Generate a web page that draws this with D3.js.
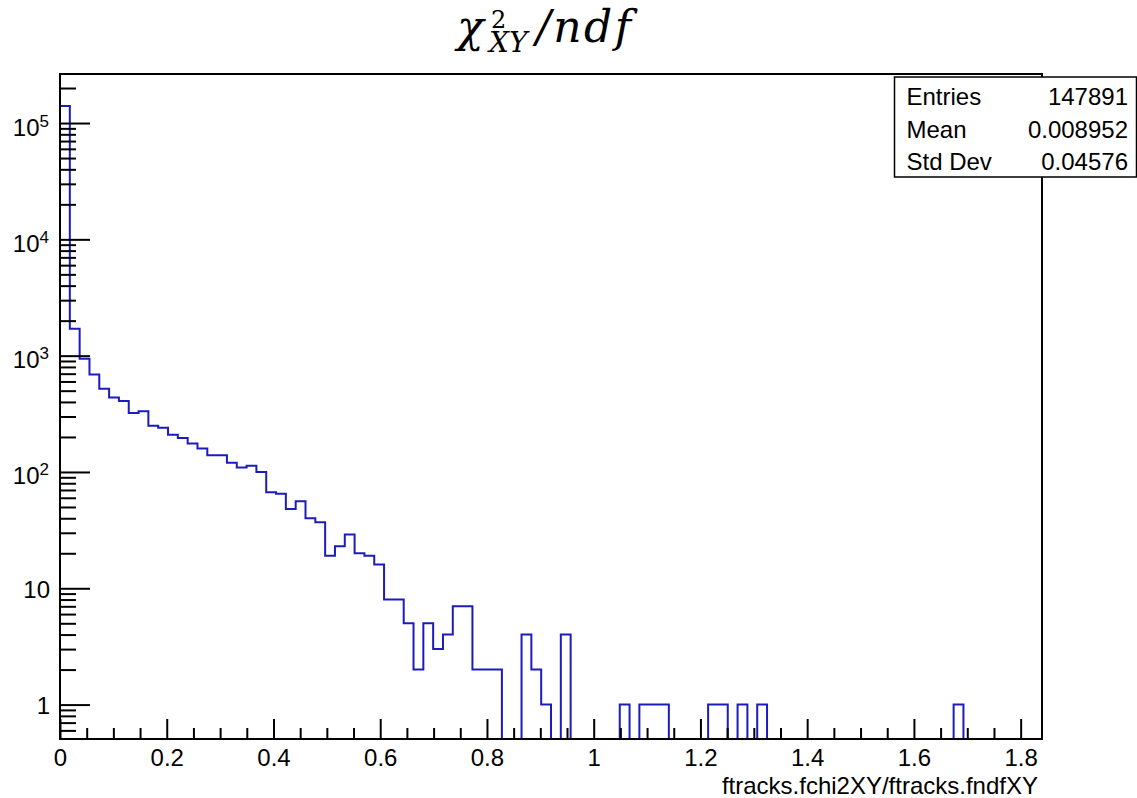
<!DOCTYPE html>
<html>
<head>
<meta charset="utf-8">
<script src="https://cdn.jsdelivr.net/npm/d3@7/dist/d3.min.js"></script>
<style>
  html, body { margin: 0; padding: 0; background: #fff; }
  svg { display: block; }
  .lbl { font-family: "Liberation Sans", Arial, Helvetica, sans-serif; fill: #000; }
  .ttl { font-family: "DejaVu Serif", serif; fill: #000; }
</style>
</head>
<body>
<svg id="chart" width="1137" height="798"></svg>
<script>
// Histogram of chi2/ndf in the XY plane: 100 equal bins over [0, 1.84]
const xRange = [0, 1.84];
const yRange = [0.506, 264000];
const binCounts = [
  140070, 1707, 940, 690, 520, 436, 407, 321, 332, 250,
  240, 209, 196, 176, 159, 139, 139, 120, 109, 113,
  100, 67, 65, 48, 56, 40, 37, 19, 23, 29,
  20, 19, 16, 8, 8, 5, 2, 5, 3, 4,
  7, 7, 2, 2, 2, 0, 0, 4, 2, 1,
  0, 4, 0, 0, 0, 0, 0, 1, 0, 1,
  1, 1, 0, 0, 0, 0, 1, 1, 0, 1,
  0, 1, 0, 0, 0, 0, 0, 0, 0, 0,
  0, 0, 0, 0, 0, 0, 0, 0, 0, 0,
  0, 1, 0, 0, 0, 0, 0, 0, 0, 0
];

// Axis ticks and labels
const xMajorTicks = [0, 0.2, 0.4, 0.6, 0.8, 1, 1.2, 1.4, 1.6, 1.8];
const xTickLabels = ["0", "0.2", "0.4", "0.6", "0.8", "1", "1.2", "1.4", "1.6", "1.8"];
const yMajorTicks = [1, 10, 100, 1000, 10000, 100000];
const yLabelBase = ["1", "10", "10", "10", "10", "10"];
const yLabelExp = ["", "", "2", "3", "4", "5"];
const xTitle = "ftracks.fchi2XY/ftracks.fndfXY";

// Statistics box
const statNames = ["Entries", "Mean", "Std Dev"];
const statValues = ["147891", "0.008952", "0.04576"];

const frame = { left: 60, right: 1042, top: 74, bottom: 739 };
const svg = d3.select("#chart");

const x = d3.scaleLinear().domain(xRange).range([frame.left, frame.right]);
const y = d3.scaleLog().domain(yRange).range([frame.bottom, frame.top]);

const nBins = binCounts.length;
const binW = (xRange[1] - xRange[0]) / nBins;
const yOf = v => (v > 0 ? Math.max(frame.top, y(v)) : frame.bottom);

// Step outline of the histogram
const pts = [[x(xRange[0]), frame.bottom]];
binCounts.forEach((c, i) => {
  const x0 = x(xRange[0] + i * binW), x1 = x(xRange[0] + (i + 1) * binW);
  pts.push([x0, yOf(c)], [x1, yOf(c)]);
});
pts.push([x(xRange[1]), frame.bottom]);

svg.append("defs").append("clipPath").attr("id", "plotClip")
  .append("rect")
  .attr("x", frame.left).attr("y", frame.top)
  .attr("width", frame.right - frame.left).attr("height", frame.bottom - frame.top);

svg.append("path")
  .attr("clip-path", "url(#plotClip)")
  .attr("d", d3.line()(pts))
  .attr("fill", "none")
  .attr("stroke", "#1c1cbc")
  .attr("stroke-width", 2)
  .attr("stroke-linejoin", "miter");

// Frame
svg.append("rect")
  .attr("x", frame.left).attr("y", frame.top)
  .attr("width", frame.right - frame.left).attr("height", frame.bottom - frame.top)
  .attr("fill", "none").attr("stroke", "#000").attr("stroke-width", 2);

// X axis: major and minor ticks pointing into the frame
const xMinor = d3.range(0, 37).map(i => +(i * 0.05).toFixed(2))
  .filter(v => v <= xRange[1] && !xMajorTicks.some(t => Math.abs(t - v) < 1e-9));

const xAxisMajor = d3.axisBottom(x).tickValues(xMajorTicks)
  .tickFormat((d, i) => xTickLabels[i])
  .tickSizeInner(-20).tickSizeOuter(0).tickPadding(10);
const gx = svg.append("g").attr("transform", `translate(0,${frame.bottom})`).call(xAxisMajor);
gx.select(".domain").remove();
gx.selectAll("line").attr("stroke", "#000").attr("stroke-width", 2);
gx.selectAll("text").attr("class", "lbl").attr("font-size", 24).attr("fill", "#000")
  .attr("dy", "0.71em");

const gxm = svg.append("g").attr("transform", `translate(0,${frame.bottom})`)
  .call(d3.axisBottom(x).tickValues(xMinor).tickFormat("").tickSizeInner(-11).tickSizeOuter(0));
gxm.select(".domain").remove();
gxm.selectAll("line").attr("stroke", "#000").attr("stroke-width", 2);

// Y axis: log decades with superscript labels
const yMinor = [];
for (let k = -1; k <= 5; k++) {
  for (let m = 2; m <= 9; m++) {
    const v = m * Math.pow(10, k);
    if (v > yRange[0] && v < yRange[1]) yMinor.push(v);
  }
}

const gy = svg.append("g").attr("transform", `translate(${frame.left},0)`)
  .call(d3.axisLeft(y).tickValues(yMajorTicks).tickFormat("").tickSizeInner(-30).tickSizeOuter(0));
gy.select(".domain").remove();
gy.selectAll("line").attr("stroke", "#000").attr("stroke-width", 2);
gy.selectAll(".tick").each(function (d, i) {
  const t = d3.select(this).select("text")
    .attr("class", "lbl").attr("font-size", 24).attr("fill", "#000")
    .attr("text-anchor", "end").attr("x", -10).attr("dy", null)
    .attr("y", yLabelExp[i] ? 12 : 9);
  t.text(null);
  if (yLabelExp[i]) {
    t.attr("x", -11);
    t.append("tspan").text(yLabelBase[i]);
    t.append("tspan").attr("font-size", 17).attr("dy", -9).text(yLabelExp[i]);
  } else {
    t.text(yLabelBase[i]);
  }
});

const gym = svg.append("g").attr("transform", `translate(${frame.left},0)`)
  .call(d3.axisLeft(y).tickValues(yMinor).tickFormat("").tickSizeInner(-16).tickSizeOuter(0));
gym.select(".domain").remove();
gym.selectAll("line").attr("stroke", "#000").attr("stroke-width", 2);

// X axis title, right-aligned to the frame
svg.append("text").attr("class", "lbl")
  .attr("x", frame.right - 4).attr("y", 794)
  .attr("text-anchor", "end").attr("font-size", 24)
  .text(xTitle);

// Statistics box
const box = { x: 894.5, y: 77, w: 242, h: 100 };
svg.append("rect")
  .attr("x", box.x).attr("y", box.y).attr("width", box.w).attr("height", box.h)
  .attr("fill", "#fff").attr("stroke", "#000").attr("stroke-width", 1.5);
const rowBase = [105, 137.5, 170];
statNames.forEach((n, i) => {
  svg.append("text").attr("class", "lbl").attr("font-size", 24)
    .attr("x", box.x + 12).attr("y", rowBase[i]).text(n);
  svg.append("text").attr("class", "lbl").attr("font-size", 24)
    .attr("x", 1128).attr("y", rowBase[i]).attr("text-anchor", "end").text(statValues[i]);
});

// Title: chi^2_XY / ndf, set as one text with stacked super/subscript
const title = svg.append("text").attr("class", "ttl");
title.append("tspan").style("font-style", "italic").attr("font-size", 44)
  .attr("x", 457).attr("y", 42).text("χ");
title.append("tspan").style("font-style", "normal").attr("font-size", 24)
  .attr("x", 491).attr("y", 27.5).text("2");
title.append("tspan").style("font-style", "italic").attr("font-size", 28)
  .attr("x", 489).attr("y", 52).text("XY");
title.append("tspan").style("font-style", "italic").attr("font-size", 44)
  .attr("x", 536).attr("y", 42)
  .attr("textLength", 95).attr("lengthAdjust", "spacing").text("/ndf");
</script>
</body>
</html>
